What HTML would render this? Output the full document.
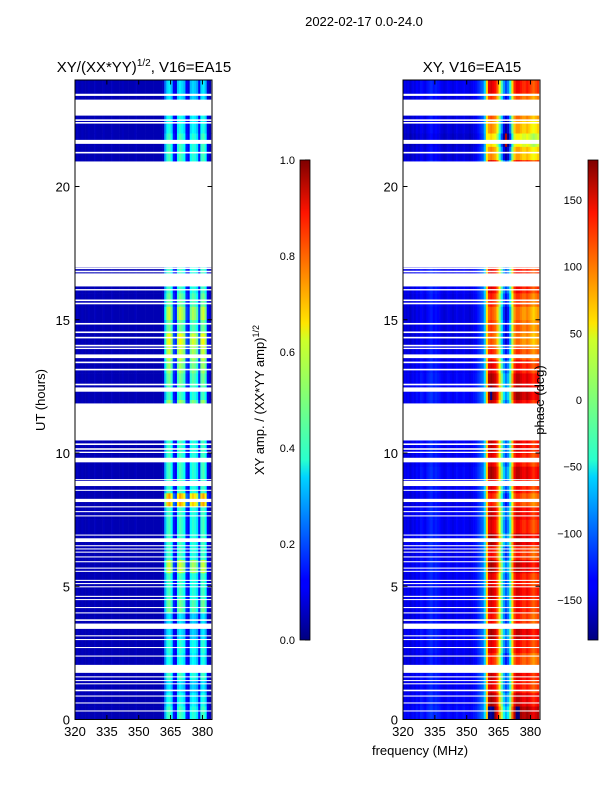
<!DOCTYPE html>
<html><head><meta charset="utf-8"><style>
body{margin:0;background:#fff;}
svg text{font-family:"Liberation Sans",sans-serif;fill:#000;}
</style></head><body>
<svg id="fig" width="600" height="800" xmlns="http://www.w3.org/2000/svg">
<defs>
<linearGradient id="jet" x1="0" y1="1" x2="0" y2="0">
<stop offset="0" stop-color="#00007f"/><stop offset="0.11" stop-color="#0000ff"/><stop offset="0.125" stop-color="#0000ff"/>
<stop offset="0.34" stop-color="#00d4ff"/><stop offset="0.375" stop-color="#29ffce"/><stop offset="0.5" stop-color="#7dff7a"/>
<stop offset="0.625" stop-color="#ceff29"/><stop offset="0.66" stop-color="#ffe500"/><stop offset="0.89" stop-color="#ff1400"/>
<stop offset="1" stop-color="#7f0000"/></linearGradient>
</defs>
<text x="364" y="26" font-size="13" text-anchor="middle">2022-02-17 0.0-24.0</text>
<text x="144" y="72" font-size="15" text-anchor="middle">XY/(XX*YY)<tspan font-size="10" dy="-6">1/2</tspan><tspan dy="6">, V16=EA15</tspan></text>
<text x="472" y="72" font-size="15" text-anchor="middle">XY, V16=EA15</text>
<g id="ampPanel"></g>
<g id="phPanel"></g>
<g id="axes"></g>
<text transform="translate(45,400) rotate(-90)" font-size="13" text-anchor="middle">UT (hours)</text>
<text x="420" y="755" font-size="13" text-anchor="middle">frequency (MHz)</text>
<rect x="300" y="160" width="10" height="480" fill="url(#jet)" stroke="#000" stroke-width="0.8"/>
<rect x="588" y="160" width="10" height="480" fill="url(#jet)" stroke="#000" stroke-width="0.8"/>
<text transform="translate(264,400) rotate(-90)" font-size="13" text-anchor="middle">XY amp. / (XX*YY amp)<tspan font-size="9" dy="-5">1/2</tspan></text>
<text transform="translate(544,400) rotate(-90)" font-size="13" text-anchor="middle">phase (deg)</text>
</svg>
<script>
const gaps=[[23.4,23.48],[22.66,23.26],[22.46,22.52],[22.36,22.42],[21.6,21.75],[21.24,21.3],[16.96,20.94],[16.9,16.95],[16.78,16.84],[16.25,16.74],[16.1,16.15],[15.7,15.76],[15.58,15.64],[14.82,14.88],[14.5,14.56],[14.3,14.36],[14.0,14.06],[13.9,13.95],[13.56,13.7],[13.37,13.43],[13.1,13.16],[12.54,12.6],[12.3,12.46],[10.47,11.86],[10.3,10.36],[10.12,10.18],[10.0,10.05],[9.65,9.82],[8.98,9.02],[8.76,8.95],[8.58,8.62],[8.16,8.28],[7.96,8.0],[7.78,7.82],[7.62,7.66],[6.9,6.94],[6.66,6.8],[6.5,6.54],[6.38,6.42],[6.26,6.3],[6.08,6.12],[5.9,5.94],[5.66,5.7],[5.54,5.58],[5.2,5.24],[5.08,5.12],[4.96,5.0],[4.6,4.64],[4.48,4.52],[4.18,4.22],[3.98,4.02],[3.7,3.76],[3.4,3.6],[3.12,3.16],[2.98,3.02],[2.68,2.72],[2.36,2.4],[1.75,2.05],[1.58,1.62],[1.44,1.48],[1.32,1.36],[1.06,1.12],[0.86,0.9],[0.6,0.64],[0.3,0.34]];
const ampBase=[0.06,0.06,0.05,0.06,0.05,0.05,0.06,0.05,0.05,0.06,0.05,0.05,0.05,0.06,0.05,0.05,0.05,0.06,0.05,0.05,0.05,0.05,0.06,0.05,0.05,0.05,0.05,0.05,0.06,0.05,0.05,0.05,0.05,0.05,0.05,0.05,0.05,0.05,0.05,0.05,0.05,0.06,0.3,0.42,0.45,0.38,0.15,0.12,0.4,0.45,0.42,0.38,0.15,0.12,0.38,0.42,0.4,0.35,0.15,0.42,0.45,0.38,0.1,0.06];
const ampMod=[1.0,0.9,0.8,1.0,0.9,0.95,0.8,0.8,1.1,1.0,1.0,1.3,1.0,1.0,1.0,1.0,1.6,1.0,1.0,1.0,1.0,1.0,1.1,1.2,1.0,1.1,1.2,1.3,1.4,1.1,1.3,1.1,1.0,1.0,1.0,1.0,1.0,1.0,1.0,1.0,1.0,1.0,1.0,1.0,0.9,0.9,0.8,0.8];
const phBase=[-140,-145,-140,-150,-140,-145,-135,-140,-130,-135,-140,-130,-125,-120,-130,-125,-130,-135,-140,-145,-140,-135,-140,-145,-140,-135,-140,-140,-135,-140,-140,-145,-140,-135,-130,-120,-110,-100,-60,60,140,150,140,130,100,40,-20,-80,-110,-90,-30,60,120,140,140,130,120,120,130,120,110,100,110,120];
const phShift=[40,20,0,10,-20,0,20,-10,0,10,0,20,-10,20,0,10,-20,0,20,0,10,-20,0,10,30,20,0,-20,-40,-30,-40,-20,0,0,0,0,0,0,0,0,0,0,-60,-90,-60,-40,-30,0];
const fTicks=[320,335,350,365,380];
const hTicks=[0,5,10,15,20];
const cbAmpTicks=[0,0.2,0.4,0.6,0.8,1.0];
const cbPhTicks=[150,100,50,0,-50,-100,-150];
const NS="http://www.w3.org/2000/svg";
const Y0=719.5,PXH=26.65,F0=320,FW=137/64.5;
const yOf=h=>Y0-h*PXH;
const xOf=(f,left)=>left+(f-F0)*FW;
function jet(v){v=Math.max(0,Math.min(1,v));
const r=Math.min(4*v-1.5,-4*v+4.5),g=Math.min(4*v-0.5,-4*v+3.5),b=Math.min(4*v+0.5,-4*v+2.5);
const c=x=>Math.round(255*Math.max(0,Math.min(1,x)));return `rgb(${c(r)},${c(g)},${c(b)})`;}
function el(tag,attrs,parent){const e=document.createElementNS(NS,tag);for(const k in attrs)e.setAttribute(k,attrs[k]);parent.appendChild(e);return e;}
function panel(gid,left,valFn){
 const g=document.getElementById(gid);
 for(let t=0;t<ampMod.length;t++){for(let c=0;c<ampBase.length;c++){
  const x1=xOf(F0+c,left),x2=xOf(F0+c+1,left);const yA=yOf(t*0.5+0.5),yB=yOf(t*0.5);
  const r=el('rect',{x:x1.toFixed(2),y:yA.toFixed(2),width:(x2-x1+0.3).toFixed(2),height:(yB-yA+0.3).toFixed(2),fill:jet(valFn(t,c))},g);
  
  
 }}
 for(const gp of gaps){const r=el('rect',{x:left,y:yOf(gp[1]),width:137,height:yOf(gp[0])-yOf(gp[1]),fill:'#fff'},g);
  
  }
}
panel('ampPanel',75,(t,c)=>ampBase[c]*(c>=42?ampMod[t]:1));
panel('phPanel',403,(t,c)=>{let p=phBase[c]+(c>=40?phShift[t]:phShift[t]*0.15);p=((p+180)%360+360)%360-180;return (p+180)/360;});
const ax=document.getElementById('axes');
[75,403].forEach((left,i)=>{
 const fr=el('rect',{x:left,y:80,width:137,height:639.5,fill:'none',stroke:'#000','stroke-width':1},ax);
 
 
 fTicks.forEach(f=>{const x=xOf(f,left);
  el('line',{x1:x,x2:x,y1:719.5,y2:715,stroke:'#000'},ax);el('line',{x1:x,x2:x,y1:80,y2:84.5,stroke:'#000'},ax);
  const t=el('text',{x:x,y:736,'font-size':13,'text-anchor':'middle'},ax);t.textContent=f;
  
  });
 hTicks.forEach(h=>{const y=yOf(h);
  el('line',{x1:left,x2:left+4.5,y1:y,y2:y,stroke:'#000'},ax);el('line',{x1:left+137,x2:left+132.5,y1:y,y2:y,stroke:'#000'},ax);
  const t=el('text',{x:left-5,y:y+5,'font-size':13,'text-anchor':'end'},ax);t.textContent=h;
  
  });
});
cbAmpTicks.forEach(v=>{const y=640-v*480;el('line',{x1:305,x2:310,y1:y,y2:y,stroke:'#000'},ax);
 const t=el('text',{x:295,y:y+4,'font-size':11,'text-anchor':'end'},ax);t.textContent=v.toFixed(1);
 
 });
cbPhTicks.forEach(v=>{const y=400-v*480/360;el('line',{x1:593,x2:598,y1:y,y2:y,stroke:'#000'},ax);
 const t=el('text',{x:582,y:y+4,'font-size':11,'text-anchor':'end'},ax);t.textContent=v<0?'\u2212'+(-v):v;
 
 });
</script>
</body></html>
